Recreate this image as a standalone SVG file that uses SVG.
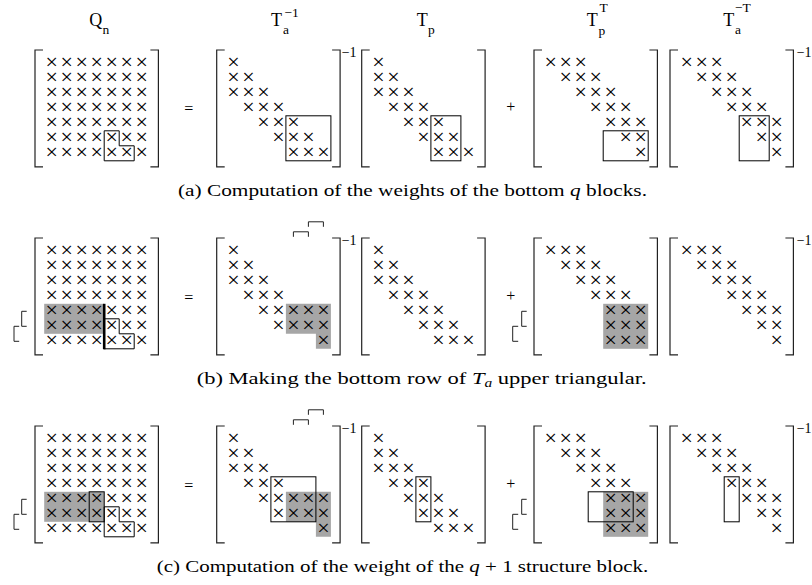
<svg xmlns="http://www.w3.org/2000/svg" width="812" height="585" viewBox="0 0 812 585">
<style>
.x{font-family:"Liberation Serif",serif;font-size:22px;text-anchor:middle;fill:#000}
.br{fill:none;stroke:#222;stroke-width:1.2}
.bx{fill:none;stroke:#000;stroke-width:1}
.g{fill:#a6a6a6}
.mk{fill:none;stroke:#222;stroke-width:1}
.lb{font-family:"Liberation Serif",serif;font-size:18px;fill:#000}
.sb{font-family:"Liberation Serif",serif;font-size:13.5px;fill:#000}
.sup{font-family:"Liberation Serif",serif;font-size:14px;fill:#000}
.op{font-family:"Liberation Serif",serif;font-size:16px;text-anchor:middle;fill:#000}
.cap{font-family:"Liberation Serif",serif;font-size:17.5px;fill:#000}
</style>
<defs>
<path id="brk" d="M-1.2,-5.8H-9.2V111H-1.2M106.2,-5.8H114.2V111H106.2"/>
</defs>
<rect width="812" height="585" fill="#fff"/>

<g id="labels">
<g id="lbl-Qn"><text class="lb" x="89.3" y="26">Q</text><text class="sb" x="102.5" y="33.5">n</text></g>
<g id="lbl-Tainv"><text class="lb" x="271" y="26">T</text><text class="sb" x="283" y="33.5">a</text><text class="sb" x="284.5" y="16.5">−1</text></g>
<g id="lbl-Tp"><text class="lb" x="416.7" y="26">T</text><text class="sb" x="428" y="34">p</text></g>
<g id="lbl-TpT"><text class="lb" x="586.7" y="26">T</text><text class="sb" x="599.5" y="12">T</text><text class="sb" x="598.5" y="35">p</text></g>
<g id="lbl-TaiT"><text class="lb" x="723.3" y="26">T</text><text class="sb" x="735" y="12">−T</text><text class="sb" x="735" y="34">a</text></g>
</g>

<!-- ===== Panel (a) ===== -->
<g id="panel-a">
<g id="a-Qn" transform="translate(44.2,55.8)">
<use href="#brk" class="br"/>
<text class="x" x="7.5 22.5 37.5 52.5 67.5 82.5 97.5 7.5 22.5 37.5 52.5 67.5 82.5 97.5 7.5 22.5 37.5 52.5 67.5 82.5 97.5 7.5 22.5 37.5 52.5 67.5 82.5 97.5 7.5 22.5 37.5 52.5 67.5 82.5 97.5 7.5 22.5 37.5 52.5 67.5 82.5 97.5 7.5 22.5 37.5 52.5 67.5 82.5 97.5" y="13.6 13.6 13.6 13.6 13.6 13.6 13.6 28.6 28.6 28.6 28.6 28.6 28.6 28.6 43.6 43.6 43.6 43.6 43.6 43.6 43.6 58.6 58.6 58.6 58.6 58.6 58.6 58.6 73.6 73.6 73.6 73.6 73.6 73.6 73.6 88.6 88.6 88.6 88.6 88.6 88.6 88.6 103.6 103.6 103.6 103.6 103.6 103.6 103.6">×××××××××××××××××××××××××××××××××××××××××××××××××</text>
<path class="bx" d="M60,75H75V90H90V105H60Z"/>
</g>
<text class="op" x="188.8" y="114.2">=</text>
<g id="a-Tainv" transform="translate(225.9,55.8)">
<use href="#brk" class="br"/>
<text class="x" x="7.5 7.5 22.5 7.5 22.5 37.5 22.5 37.5 52.5 37.5 52.5 67.5 52.5 67.5 82.5 67.5 82.5 97.5" y="13.6 28.6 28.6 43.6 43.6 43.6 58.6 58.6 58.6 73.6 73.6 73.6 88.6 88.6 88.6 103.6 103.6 103.6">××××××××××××××××××</text>
<rect class="bx" x="60" y="60" width="45" height="45"/>
<text class="sup" x="115.8" y="1.4">−1</text>
</g>
<g id="a-Tp" transform="translate(370.9,55.8)">
<use href="#brk" class="br"/>
<text class="x" x="7.5 7.5 22.5 7.5 22.5 37.5 22.5 37.5 52.5 37.5 52.5 67.5 52.5 67.5 82.5 67.5 82.5 97.5" y="13.6 28.6 28.6 43.6 43.6 43.6 58.6 58.6 58.6 73.6 73.6 73.6 88.6 88.6 88.6 103.6 103.6 103.6">××××××××××××××××××</text>
<rect class="bx" x="60" y="60" width="30" height="45"/>
</g>
<text class="op" x="510.7" y="112.3">+</text>
<g id="a-TpT" transform="translate(543.2,55.8)">
<use href="#brk" class="br"/>
<text class="x" x="7.5 22.5 37.5 22.5 37.5 52.5 37.5 52.5 67.5 52.5 67.5 82.5 67.5 82.5 97.5 82.5 97.5 97.5" y="13.6 13.6 13.6 28.6 28.6 28.6 43.6 43.6 43.6 58.6 58.6 58.6 73.6 73.6 73.6 88.6 88.6 103.6">××××××××××××××××××</text>
<rect class="bx" x="60" y="75" width="45" height="30"/>
</g>
<g id="a-TaiT" transform="translate(679.2,55.8)">
<use href="#brk" class="br"/>
<text class="x" x="7.5 22.5 37.5 22.5 37.5 52.5 37.5 52.5 67.5 52.5 67.5 82.5 67.5 82.5 97.5 82.5 97.5 97.5" y="13.6 13.6 13.6 28.6 28.6 28.6 43.6 43.6 43.6 58.6 58.6 58.6 73.6 73.6 73.6 88.6 88.6 103.6">××××××××××××××××××</text>
<rect class="bx" x="60" y="60" width="30" height="45"/>
<text class="sup" x="117.5" y="0.8">−1</text>
</g>
<text class="cap" x="178" y="195.5" textLength="469" lengthAdjust="spacingAndGlyphs">(a)  Computation of the weights of the bottom <tspan font-style="italic">q</tspan> blocks.</text>
</g>

<!-- ===== Panel (b) ===== -->
<g id="panel-b">
<g id="b-Qn" transform="translate(44.2,243.8)">
<use href="#brk" class="br"/>
<rect class="g" x="0" y="60" width="60" height="30"/>
<text class="x" x="7.5 22.5 37.5 52.5 67.5 82.5 97.5 7.5 22.5 37.5 52.5 67.5 82.5 97.5 7.5 22.5 37.5 52.5 67.5 82.5 97.5 7.5 22.5 37.5 52.5 67.5 82.5 97.5 7.5 22.5 37.5 52.5 67.5 82.5 97.5 7.5 22.5 37.5 52.5 67.5 82.5 97.5 7.5 22.5 37.5 52.5 67.5 82.5 97.5" y="13.6 13.6 13.6 13.6 13.6 13.6 13.6 28.6 28.6 28.6 28.6 28.6 28.6 28.6 43.6 43.6 43.6 43.6 43.6 43.6 43.6 58.6 58.6 58.6 58.6 58.6 58.6 58.6 73.6 73.6 73.6 73.6 73.6 73.6 73.6 88.6 88.6 88.6 88.6 88.6 88.6 88.6 103.6 103.6 103.6 103.6 103.6 103.6 103.6">×××××××××××××××××××××××××××××××××××××××××××××××××</text>
<path class="bx" d="M60,75H75V90H90V105H60Z"/>
<path d="M60,60V105.5" stroke="#000" stroke-width="2.6" fill="none"/>
<path class="mk" d="M-17.5,67.5H-22.5V82.5H-17.5M-25,82.5H-30.2V97.5H-25"/>
</g>
<text class="op" x="188.8" y="303">=</text>
<g id="b-Tainv" transform="translate(225.9,243.8)">
<use href="#brk" class="br"/>
<path class="g" d="M60,60H105V105H90V90H60Z"/>
<text class="x" x="7.5 7.5 22.5 7.5 22.5 37.5 22.5 37.5 52.5 37.5 52.5 67.5 82.5 97.5 52.5 67.5 82.5 97.5 97.5" y="13.6 28.6 28.6 43.6 43.6 43.6 58.6 58.6 58.6 73.6 73.6 73.6 73.6 73.6 88.6 88.6 88.6 88.6 103.6">×××××××××××××××××××</text>
<path class="mk" d="M67.5,-7V-12H82.5V-7M82.5,-17V-22H97.5V-17"/>
<text class="sup" x="115.8" y="1.4">−1</text>
</g>
<g id="b-Tp" transform="translate(370.9,243.8)">
<use href="#brk" class="br"/>
<text class="x" x="7.5 7.5 22.5 7.5 22.5 37.5 22.5 37.5 52.5 37.5 52.5 67.5 52.5 67.5 82.5 67.5 82.5 97.5" y="13.6 28.6 28.6 43.6 43.6 43.6 58.6 58.6 58.6 73.6 73.6 73.6 88.6 88.6 88.6 103.6 103.6 103.6">××××××××××××××××××</text>
</g>
<text class="op" x="510.7" y="300.5">+</text>
<g id="b-TpT" transform="translate(543.2,243.8)">
<use href="#brk" class="br"/>
<rect class="g" x="60" y="60" width="45" height="45"/>
<text class="x" x="7.5 22.5 37.5 22.5 37.5 52.5 37.5 52.5 67.5 52.5 67.5 82.5 67.5 82.5 97.5 67.5 82.5 97.5 67.5 82.5 97.5" y="13.6 13.6 13.6 28.6 28.6 28.6 43.6 43.6 43.6 58.6 58.6 58.6 73.6 73.6 73.6 88.6 88.6 88.6 103.6 103.6 103.6">×××××××××××××××××××××</text>
<path class="mk" d="M-16.5,67.5H-21.5V82.5H-16.5M-25,82.5H-30.5V97.5H-25"/>
</g>
<g id="b-TaiT" transform="translate(679.2,243.8)">
<use href="#brk" class="br"/>
<text class="x" x="7.5 22.5 37.5 22.5 37.5 52.5 37.5 52.5 67.5 52.5 67.5 82.5 67.5 82.5 97.5 82.5 97.5 97.5" y="13.6 13.6 13.6 28.6 28.6 28.6 43.6 43.6 43.6 58.6 58.6 58.6 73.6 73.6 73.6 88.6 88.6 103.6">××××××××××××××××××</text>
<text class="sup" x="117.5" y="0.8">−1</text>
</g>
<text class="cap" x="196.7" y="383.5" textLength="450" lengthAdjust="spacingAndGlyphs">(b)  Making the bottom row of <tspan font-style="italic">T</tspan><tspan font-style="italic" font-size="12px" dy="3">a</tspan><tspan dy="-3"> upper triangular.</tspan></text>
</g>

<!-- ===== Panel (c) ===== -->
<g id="panel-c">
<g id="c-Qn" transform="translate(44.2,431.8)">
<use href="#brk" class="br"/>
<rect class="g" x="0" y="60" width="60" height="30"/>
<text class="x" x="7.5 22.5 37.5 52.5 67.5 82.5 97.5 7.5 22.5 37.5 52.5 67.5 82.5 97.5 7.5 22.5 37.5 52.5 67.5 82.5 97.5 7.5 22.5 37.5 52.5 67.5 82.5 97.5 7.5 22.5 37.5 52.5 67.5 82.5 97.5 7.5 22.5 37.5 52.5 67.5 82.5 97.5 7.5 22.5 37.5 52.5 67.5 82.5 97.5" y="13.6 13.6 13.6 13.6 13.6 13.6 13.6 28.6 28.6 28.6 28.6 28.6 28.6 28.6 43.6 43.6 43.6 43.6 43.6 43.6 43.6 58.6 58.6 58.6 58.6 58.6 58.6 58.6 73.6 73.6 73.6 73.6 73.6 73.6 73.6 88.6 88.6 88.6 88.6 88.6 88.6 88.6 103.6 103.6 103.6 103.6 103.6 103.6 103.6">×××××××××××××××××××××××××××××××××××××××××××××××××</text>
<rect class="bx" x="45" y="60" width="15" height="30"/>
<path class="bx" d="M60,75H75V90H90V105H60Z"/>
<path class="mk" d="M-17.5,67.5H-22.5V82.5H-17.5M-25,82.5H-30.2V97.5H-25"/>
</g>
<text class="op" x="188.8" y="491">=</text>
<g id="c-Tainv" transform="translate(225.9,431.8)">
<use href="#brk" class="br"/>
<path class="g" d="M60,60H105V105H90V90H60Z"/>
<text class="x" x="7.5 7.5 22.5 7.5 22.5 37.5 22.5 37.5 52.5 37.5 52.5 67.5 82.5 97.5 52.5 67.5 82.5 97.5 97.5" y="13.6 28.6 28.6 43.6 43.6 43.6 58.6 58.6 58.6 73.6 73.6 73.6 73.6 73.6 88.6 88.6 88.6 88.6 103.6">×××××××××××××××××××</text>
<rect class="bx" x="45" y="45" width="45" height="45"/>
<path class="mk" d="M67.5,-7V-12H82.5V-7M82.5,-17V-22H97.5V-17"/>
<text class="sup" x="115.8" y="1.4">−1</text>
</g>
<g id="c-Tp" transform="translate(370.9,431.8)">
<use href="#brk" class="br"/>
<text class="x" x="7.5 7.5 22.5 7.5 22.5 37.5 22.5 37.5 52.5 37.5 52.5 67.5 52.5 67.5 82.5 67.5 82.5 97.5" y="13.6 28.6 28.6 43.6 43.6 43.6 58.6 58.6 58.6 73.6 73.6 73.6 88.6 88.6 88.6 103.6 103.6 103.6">××××××××××××××××××</text>
<rect class="bx" x="45" y="45" width="15" height="45"/>
</g>
<text class="op" x="510.7" y="488.5">+</text>
<g id="c-TpT" transform="translate(543.2,431.8)">
<use href="#brk" class="br"/>
<rect class="g" x="60" y="60" width="45" height="45"/>
<text class="x" x="7.5 22.5 37.5 22.5 37.5 52.5 37.5 52.5 67.5 52.5 67.5 82.5 67.5 82.5 97.5 67.5 82.5 97.5 67.5 82.5 97.5" y="13.6 13.6 13.6 28.6 28.6 28.6 43.6 43.6 43.6 58.6 58.6 58.6 73.6 73.6 73.6 88.6 88.6 88.6 103.6 103.6 103.6">×××××××××××××××××××××</text>
<rect class="bx" x="45" y="60" width="45" height="30"/>
<path class="mk" d="M-16.5,67.5H-21.5V82.5H-16.5M-25,82.5H-30.5V97.5H-25"/>
</g>
<g id="c-TaiT" transform="translate(679.2,431.8)">
<use href="#brk" class="br"/>
<text class="x" x="7.5 22.5 37.5 22.5 37.5 52.5 37.5 52.5 67.5 52.5 67.5 82.5 67.5 82.5 97.5 82.5 97.5 97.5" y="13.6 13.6 13.6 28.6 28.6 28.6 43.6 43.6 43.6 58.6 58.6 58.6 73.6 73.6 73.6 88.6 88.6 103.6">××××××××××××××××××</text>
<rect class="bx" x="45" y="45" width="15" height="45"/>
<text class="sup" x="117.5" y="0.8">−1</text>
</g>
<text class="cap" x="156.7" y="571.5" textLength="491.6" lengthAdjust="spacingAndGlyphs">(c)  Computation of the weight of the <tspan font-style="italic">q</tspan> + 1 structure block.</text>
</g>
</svg>
